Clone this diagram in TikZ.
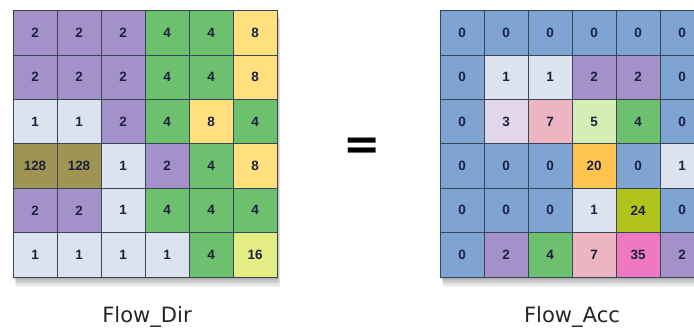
\documentclass[tikz,border=0pt]{standalone}
\usepackage{fontspec}
\setmainfont{DejaVu Sans}
\newfontfamily\cellfont{Liberation Sans}
\usepackage{xcolor}
\usetikzlibrary{positioning}

\definecolor{cP}{RGB}{165,145,201}
\definecolor{cG}{RGB}{109,192,110}
\definecolor{cY}{RGB}{255,223,126}
\definecolor{cL}{RGB}{221,227,238}
\definecolor{cO}{RGB}{160,148,82}
\definecolor{cYG}{RGB}{228,236,132}
\definecolor{cB}{RGB}{127,164,211}
\definecolor{cLP}{RGB}{226,214,234}
\definecolor{cPK}{RGB}{237,181,194}
\definecolor{cLG}{RGB}{214,237,182}
\definecolor{cOR}{RGB}{255,196,78}
\definecolor{cOL}{RGB}{176,196,28}
\definecolor{cMG}{RGB}{238,120,194}
\definecolor{gridline}{RGB}{55,70,85}
\definecolor{digit}{RGB}{28,32,64}

\begin{document}
\begin{tikzpicture}[x=0.03cm,y=-0.03cm]
\useasboundingbox (0,0) rectangle (694,329);
\clip (0,0) rectangle (694,329);
\tikzstyle{cell}=[draw=gridline,line width=0.4pt,inner sep=0pt,
  minimum width=1.32cm,minimum height=1.332cm,
  text=digit,font=\cellfont\bfseries\fontsize{11.5}{11.5}\selectfont]
\tikzstyle{caption}=[font=\fontsize{18}{20}\selectfont,text=black!85]

% soft shadows under both grids
\foreach \gx in {13,440}
  \foreach \s in {1,...,6}
    \fill[black,opacity=0.06] (\gx+\s*0.5,10+\s*1.5) rectangle (\gx+264+\s*0.5,277+\s*1.6);

% Flow_Dir
\foreach \row [count=\r] in {
  {P/2,P/2,P/2,G/4,G/4,Y/8},
  {P/2,P/2,P/2,G/4,G/4,Y/8},
  {L/1,L/1,P/2,G/4,Y/8,G/4},
  {O/128,O/128,L/1,P/2,G/4,Y/8},
  {P/2,P/2,L/1,G/4,G/4,G/4},
  {L/1,L/1,L/1,L/1,G/4,YG/16}}
  \foreach \c/\v [count=\k] in \row
    \node[cell,fill=c\c] (d\r\k) at ({13+44*(\k-0.5)},{10.5+44.4*(\r-0.5)}) {\v};

% Flow_Acc
\foreach \row [count=\r] in {
  {B/0,B/0,B/0,B/0,B/0,B/0},
  {B/0,L/1,L/1,P/2,P/2,B/0},
  {B/0,LP/3,PK/7,LG/5,G/4,B/0},
  {B/0,B/0,B/0,OR/20,B/0,L/1},
  {B/0,B/0,B/0,L/1,OL/24,B/0},
  {B/0,P/2,G/4,PK/7,MG/35,P/2}}
  \foreach \c/\v [count=\k] in \row
    \node[cell,fill=c\c] (a\r\k) at ({440+44*(\k-0.5)},{10.5+44.4*(\r-0.5)}) {\v};

\node[font=\bfseries\fontsize{38}{38}\selectfont] (eq) at (362,149) {=};

\node[caption] (dirlab) at (147,317) {Flow\_Dir};
\node[caption] (acclab) at (572,317) {Flow\_Acc};
\end{tikzpicture}
\end{document}
